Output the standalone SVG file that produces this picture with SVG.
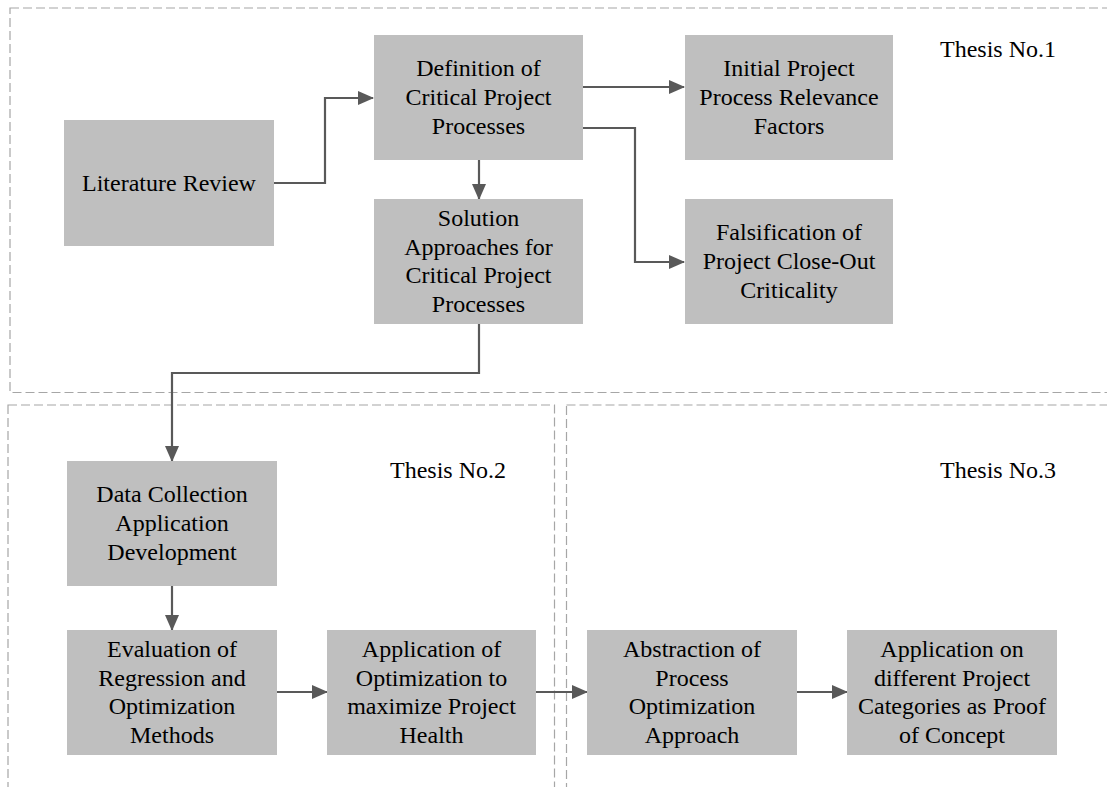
<svg xmlns="http://www.w3.org/2000/svg" width="1107" height="787" viewBox="0 0 1107 787">
<style>
.frame{fill:none;stroke:#a6a6a6;stroke-width:1.2;stroke-dasharray:9 4}
.box{fill:#bfbfbf}
text{font-family:"Liberation Serif","Times New Roman",serif;font-size:24px;fill:#000;text-anchor:middle}
.con{fill:none;stroke:#595959;stroke-width:2.2}
</style>
<defs>
<marker id="ah" markerWidth="16" markerHeight="14" refX="15" refY="7" orient="auto" markerUnits="userSpaceOnUse">
<path d="M0,0 L16,7 L0,14 Z" fill="#595959"/>
</marker>
</defs>
<g id="frames">
<rect class="frame" x="10" y="8" width="1120" height="384.5"/>
<rect class="frame" x="8" y="405" width="546.5" height="420"/>
<rect class="frame" x="566.5" y="405" width="560" height="420"/>
<text x="998" y="57">Thesis No.1</text>
<text x="448" y="478">Thesis No.2</text>
<text x="998" y="478">Thesis No.3</text>
</g>
<g id="connectors">
<path class="con" d="M274,183 H325 V98 H373" marker-end="url(#ah)"/>
<path class="con" d="M583,87 H684" marker-end="url(#ah)"/>
<path class="con" d="M583,128 H635 V262 H684" marker-end="url(#ah)"/>
<path class="con" d="M479,160 V199" marker-end="url(#ah)"/>
<path class="con" d="M479,324 V373 H172 V461" marker-end="url(#ah)"/>
<path class="con" d="M172,586 V630" marker-end="url(#ah)"/>
<path class="con" d="M277,692 H327" marker-end="url(#ah)"/>
<path class="con" d="M536,692 H587" marker-end="url(#ah)"/>
<path class="con" d="M797,692 H847" marker-end="url(#ah)"/>
</g>
<g id="lit">
<rect class="box" x="64" y="120" width="210" height="126"/>
<text x="169" y="191">Literature Review</text>
</g>
<g id="def">
<rect class="box" x="374" y="35" width="209" height="125"/>
<text x="478.5" y="76.2">Definition of</text>
<text x="478.5" y="105">Critical Project</text>
<text x="478.5" y="133.7">Processes</text>
</g>
<g id="init">
<rect class="box" x="685" y="35" width="208" height="125"/>
<text x="789" y="76.2">Initial Project</text>
<text x="789" y="105">Process Relevance</text>
<text x="789" y="133.7">Factors</text>
</g>
<g id="sol">
<rect class="box" x="374" y="199" width="209" height="125"/>
<text x="478.5" y="225.9">Solution</text>
<text x="478.5" y="254.6">Approaches for</text>
<text x="478.5" y="283.4">Critical Project</text>
<text x="478.5" y="312.1">Processes</text>
</g>
<g id="fals">
<rect class="box" x="685" y="199" width="208" height="125"/>
<text x="789" y="240.2">Falsification of</text>
<text x="789" y="269">Project Close-Out</text>
<text x="789" y="297.7">Criticality</text>
</g>
<g id="data">
<rect class="box" x="67" y="461" width="210" height="125"/>
<text x="172" y="502.2">Data Collection</text>
<text x="172" y="531">Application</text>
<text x="172" y="559.7">Development</text>
</g>
<g id="eval">
<rect class="box" x="67" y="630" width="210" height="125"/>
<text x="172" y="656.9">Evaluation of</text>
<text x="172" y="685.6">Regression and</text>
<text x="172" y="714.4">Optimization</text>
<text x="172" y="743.1">Methods</text>
</g>
<g id="appopt">
<rect class="box" x="327" y="630" width="209" height="125"/>
<text x="431.5" y="656.9">Application of</text>
<text x="431.5" y="685.6">Optimization to</text>
<text x="431.5" y="714.4">maximize Project</text>
<text x="431.5" y="743.1">Health</text>
</g>
<g id="abs">
<rect class="box" x="587" y="630" width="210" height="125"/>
<text x="692" y="656.9">Abstraction of</text>
<text x="692" y="685.6">Process</text>
<text x="692" y="714.4">Optimization</text>
<text x="692" y="743.1">Approach</text>
</g>
<g id="appcat">
<rect class="box" x="847" y="630" width="210" height="125"/>
<text x="952" y="656.9">Application on</text>
<text x="952" y="685.6">different Project</text>
<text x="952" y="714.4">Categories as Proof</text>
<text x="952" y="743.1">of Concept</text>
</g>
</svg>
